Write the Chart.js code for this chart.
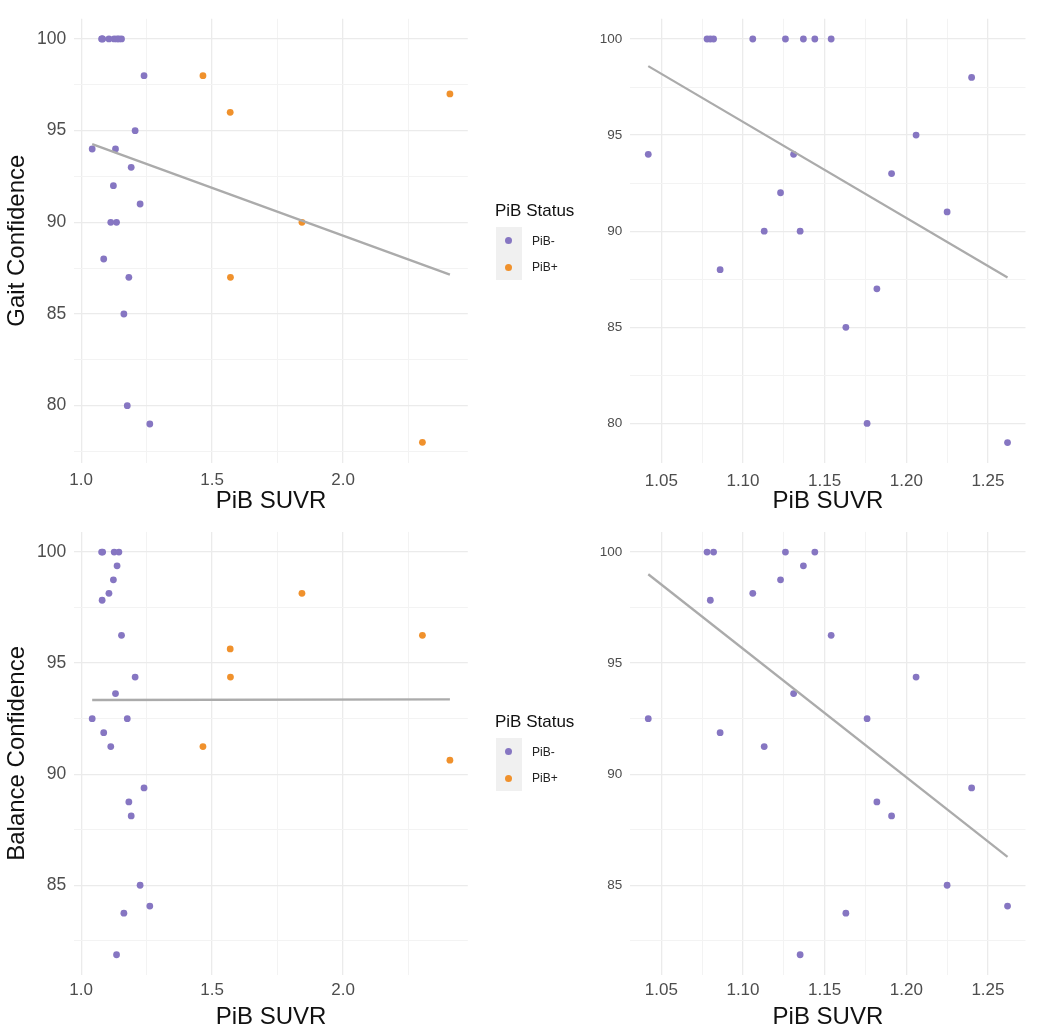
<!DOCTYPE html>
<html>
<head>
<meta charset="utf-8">
<script src="https://cdn.jsdelivr.net/npm/chart.js@4.4.0/dist/chart.umd.min.js"></script>
<style>
  body { margin: 0; background: #fff; width: 1050px; height: 1036px; position: relative; overflow: hidden;
         font-family: "Liberation Sans", Arial, sans-serif; }
  canvas { position: absolute; }
  .legend { position: absolute; width: 90px; height: 90px; }
  .legend .ttl { position: absolute; left: 0; top: 0; font-size: 17px; line-height: 22px; color: #111; white-space: nowrap; }
  .legend .keys { position: absolute; left: 1px; top: 27px; width: 26px; height: 53px; background: #f0f0f0; }
  .legend .dot { position: absolute; left: 10px; width: 7px; height: 7px; border-radius: 50%; }
  .legend .lab { position: absolute; left: 37px; font-size: 12px; line-height: 14px; color: #222; }
</style>
</head>
<body>
<canvas id="gaitAll" width="480" height="520" style="left:0;top:0"></canvas>
<canvas id="gaitNegOnly" width="490" height="520" style="left:560px;top:0"></canvas>
<canvas id="balAll" width="480" height="523" style="left:0;top:513px"></canvas>
<canvas id="balNegOnly" width="490" height="523" style="left:560px;top:513px"></canvas>
<div class="legend" id="leg1" style="left:495px;top:200px"></div>
<div class="legend" id="leg2" style="left:495px;top:711px"></div>
<script>
// data
const groups = ['PiB-', 'PiB+'];
const groupColors = ['#8676c2', '#f0912c'];

const suvrNeg = [1.042, 1.078, 1.080, 1.082, 1.086, 1.106, 1.113, 1.123, 1.126, 1.131, 1.135,
                 1.137, 1.144, 1.154, 1.163, 1.176, 1.182, 1.191, 1.206, 1.225, 1.240, 1.262];
const gaitNeg = [94, 100, 100, 100, 88, 100, 90, 92, 100, 94, 90,
                 100, 100, 100, 85, 80, 87, 93, 95, 91, 98, 79];
const balanceNeg = [92.5, 100, 97.83, 100, 91.87, 98.14, 91.24, 98.75, 100, 93.63, 81.87,
                    99.38, 100, 96.25, 83.74, 92.5, 88.75, 88.12, 94.37, 85, 89.38, 84.06];

const suvrPos = [1.465, 1.569, 1.570, 1.843, 2.303, 2.408];
const gaitPos = [98, 96, 87, 90, 78, 97];
const balancePos = [91.24, 95.64, 94.37, 98.14, 96.25, 90.63];

// grid lines (every break) and labelled breaks
const xBreaksWide = [1.0, 1.25, 1.5, 1.75, 2.0, 2.25];
const xLabelsWide = ['1.0', '1.5', '2.0'];
const xBreaksNarrow = [1.05, 1.075, 1.10, 1.125, 1.15, 1.175, 1.20, 1.225, 1.25];
const xLabelsNarrow = ['1.05', '1.10', '1.15', '1.20', '1.25'];
const yBreaks = [77.5, 80, 82.5, 85, 87.5, 90, 92.5, 95, 97.5, 100];
const yLabelsGait = ['80', '85', '90', '95', '100'];
const yLabelsBalance = ['85', '90', '95', '100'];

const tickGrey = '#4d4d4d';
const fitGrey = '#ababab';

function pts(xs, ys) {
  return xs.map((x, i) => ({ x: x, y: ys[i] }));
}

// ggplot style 5% expansion
function range(vals) {
  const lo = Math.min(...vals), hi = Math.max(...vals);
  const pad = (hi - lo) * 0.05;
  return [lo - pad, hi + pad];
}

// lm fit, drawn over the data range
function fitLine(xs, ys) {
  const n = xs.length;
  const mx = xs.reduce((a, b) => a + b, 0) / n;
  const my = ys.reduce((a, b) => a + b, 0) / n;
  let sxy = 0, sxx = 0;
  for (let i = 0; i < n; i++) {
    sxy += (xs[i] - mx) * (ys[i] - my);
    sxx += (xs[i] - mx) * (xs[i] - mx);
  }
  const b = sxy / sxx, a = my - b * mx;
  const x0 = Math.min(...xs), x1 = Math.max(...xs);
  return [{ x: x0, y: a + b * x0 }, { x: x1, y: a + b * x1 }];
}

function findLabel(labels, v) {
  return labels.find(l => Math.abs(parseFloat(l) - v) < 1e-9);
}

function axis(breaks, labels, lim, o) {
  return {
    type: 'linear',
    min: lim[0],
    max: lim[1],
    afterBuildTicks: s => { s.ticks = breaks.filter(v => v >= lim[0] && v <= lim[1]).map(v => ({ value: v })); },
    afterFit: s => { if (o.width) s.width = o.width; if (o.height) s.height = o.height; },
    ticks: {
      autoSkip: false,
      maxRotation: 0,
      padding: o.pad,
      color: tickGrey,
      font: { size: o.font, family: '"Liberation Sans", Arial, sans-serif' },
      callback: v => findLabel(labels, v) || ''
    },
    grid: {
      drawTicks: false,
      color: c => findLabel(labels, c.tick.value) ? '#ebebeb' : '#f3f3f3',
      lineWidth: c => findLabel(labels, c.tick.value) ? 1.3 : 1
    },
    border: { display: false },
    title: {
      display: !!o.title,
      text: o.title || '',
      color: '#111',
      font: { size: 24, family: '"Liberation Sans", Arial, sans-serif' },
      padding: o.titlePad
    }
  };
}

function panel(id, p) {
  const allX = p.sets.flatMap(s => s.x);
  const allY = p.sets.flatMap(s => s.y);
  const datasets = [{
    data: fitLine(allX, allY),
    showLine: true,
    borderColor: fitGrey,
    borderWidth: 2.3,
    pointRadius: 0,
    order: 0
  }];
  p.sets.forEach(s => {
    datasets.push({
      data: pts(s.x, s.y),
      backgroundColor: s.color,
      borderWidth: 0,
      pointRadius: 3.4,
      order: 1
    });
  });

  new Chart(document.getElementById(id), {
    type: 'scatter',
    data: { datasets: datasets },
    options: {
      responsive: false,
      animation: false,
      devicePixelRatio: 1,
      layout: { padding: { top: p.padTop, right: p.padRight, left: 0, bottom: 0 } },
      plugins: { legend: { display: false }, tooltip: { enabled: false } },
      scales: {
        x: axis(p.xBreaks, p.xLabels, range(allX), {
          height: p.xHeight, pad: p.xPad, font: 17,
          title: 'PiB SUVR', titlePad: { top: 0, bottom: p.xTitlePad }
        }),
        y: axis(yBreaks, p.yLabels, range(allY), {
          width: p.yWidth, pad: 8, font: p.yFont,
          title: p.yTitle, titlePad: { top: 3, bottom: 0 }
        })
      }
    }
  });
}

const neg = (ys) => ({ x: suvrNeg, y: ys, color: groupColors[0] });
const pos = (ys) => ({ x: suvrPos, y: ys, color: groupColors[1] });

panel('gaitAll', {
  sets: [neg(gaitNeg), pos(gaitPos)], xBreaks: xBreaksWide, xLabels: xLabelsWide, yLabels: yLabelsGait,
  padTop: 18.8, padRight: 12.2, yWidth: 74.3, xHeight: 57.5, xPad: 8, xTitlePad: 4, yFont: 17.5, yTitle: 'Gait Confidence'
});
panel('gaitNegOnly', {
  sets: [neg(gaitNeg)], xBreaks: xBreaksNarrow, xLabels: xLabelsNarrow, yLabels: yLabelsGait,
  padTop: 18.8, padRight: 24.5, yWidth: 70.3, xHeight: 57.2, xPad: 8, xTitlePad: 4, yFont: 13.5, yTitle: ''
});
panel('balAll', {
  sets: [neg(balanceNeg), pos(balancePos)], xBreaks: xBreaksWide, xLabels: xLabelsWide, yLabels: yLabelsBalance,
  padTop: 18.9, padRight: 12.2, yWidth: 74.3, xHeight: 61.1, xPad: 5, xTitlePad: 4, yFont: 17.5, yTitle: 'Balance Confidence'
});
panel('balNegOnly', {
  sets: [neg(balanceNeg)], xBreaks: xBreaksNarrow, xLabels: xLabelsNarrow, yLabels: yLabelsBalance,
  padTop: 18.9, padRight: 24.5, yWidth: 70.3, xHeight: 61.1, xPad: 5, xTitlePad: 4, yFont: 13.5, yTitle: ''
});

// legends
['leg1', 'leg2'].forEach(id => {
  const el = document.getElementById(id);
  let html = '<div class="ttl">PiB Status</div><div class="keys"></div>';
  groups.forEach((g, i) => {
    const cy = 40.7 + i * 26.6;
    html += '<div class="dot" style="top:' + (cy - 3.5) + 'px;background:' + groupColors[i] + '"></div>';
    html += '<div class="lab" style="top:' + (cy - 7) + 'px">' + g + '</div>';
  });
  el.innerHTML = html;
});
</script>
</body>
</html>
